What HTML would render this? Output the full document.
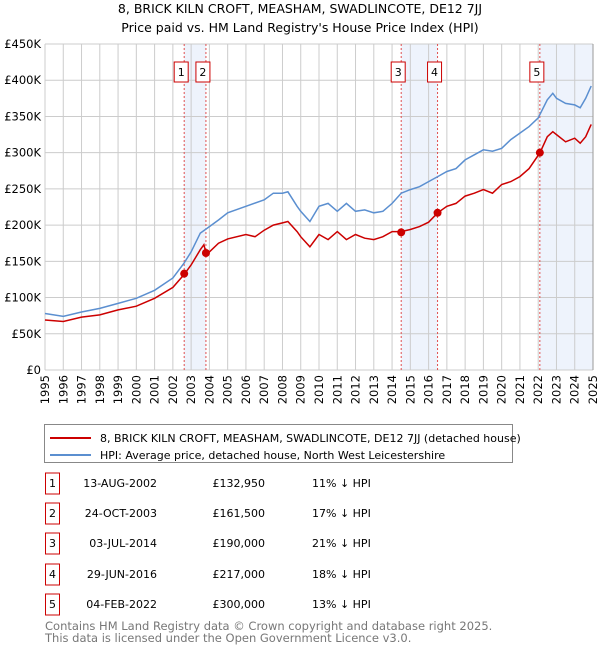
<!DOCTYPE html>
<html><head><meta charset="utf-8"><style>
body{margin:0;background:#fff;font-family:"DejaVu Sans","Liberation Sans",sans-serif;}
svg text{font-family:"DejaVu Sans","Liberation Sans",sans-serif;}
</style></head><body>
<svg id="c" width="600" height="650" xmlns="http://www.w3.org/2000/svg">
<text x="300" y="13" text-anchor="middle" font-size="12.5">8, BRICK KILN CROFT, MEASHAM, SWADLINCOTE, DE12 7JJ</text>
<text x="300" y="32" text-anchor="middle" font-size="12.5">Price paid vs. HM Land Registry's House Price Index (HPI)</text>
<g id="plot"></g>
<g>
<rect x="44.5" y="424.5" width="468" height="38" fill="#fff" stroke="#888"/>
<line x1="50" y1="438" x2="91" y2="438" stroke="#cc0000" stroke-width="2"/>
<text x="100" y="442" font-size="11">8, BRICK KILN CROFT, MEASHAM, SWADLINCOTE, DE12 7JJ (detached house)</text>
<line x1="50" y1="455" x2="91" y2="455" stroke="#5b8fd0" stroke-width="2"/>
<text x="100" y="459" font-size="11">HPI: Average price, detached house, North West Leicestershire</text>
</g>
<g id="table" font-size="11"></g>
<text x="45" y="630" font-size="11.5" fill="#777">Contains HM Land Registry data © Crown copyright and database right 2025.</text>
<text x="45" y="642" font-size="11.5" fill="#777">This data is licensed under the Open Government Licence v3.0.</text>
</svg>
<script>
const hpiYears=[1995,1996,1997,1998,1999,2000,2001,2002,2002.6,2003,2003.5,2004,2004.5,2005,2006,2007,2007.5,2008,2008.3,2008.8,2009,2009.5,2010,2010.5,2011,2011.5,2012,2012.5,2013,2013.5,2014,2014.5,2015,2015.5,2016,2016.5,2017,2017.5,2018,2018.5,2019,2019.5,2020,2020.5,2021,2021.5,2022,2022.5,2022.8,2023,2023.5,2024,2024.3,2024.6,2024.9];
const hpiValues=[78,74,80,85,92,99,110,127,147,163,189,198,207,217,226,235,244,244,246,226,219,205,226,230,219,230,219,221,217,219,230,244,249,253,260,267,274,278,290,297,304,302,306,318,327,336,348,373,382,375,368,366,362,375,392];
const propYears=[1995,1996,1997,1998,1999,2000,2001,2002,2002.62,2003,2003.5,2003.7,2003.81,2004,2004.5,2005,2006,2006.5,2007,2007.5,2008,2008.3,2008.8,2009,2009.5,2010,2010.5,2011,2011.5,2012,2012.5,2013,2013.5,2014,2014.5,2015,2015.5,2016,2016.5,2017,2017.5,2018,2018.5,2019,2019.5,2020,2020.5,2021,2021.5,2022.1,2022.5,2022.8,2023,2023.5,2024,2024.3,2024.6,2024.9];
const propValues=[69,67,73,76,83,88,99,114,132,145,166,173,162,163,175,181,187,184,193,200,203,205,191,184,170,187,180,191,180,187,182,180,184,191,191,194,198,204,217,226,230,240,244,249,244,256,260,267,278,300,322,329,325,315,320,313,322,339];
const saleYears=[2002.62,2003.81,2014.5,2016.49,2022.09];
const salePrices=[132.95,161.5,190,217,300];
const saleLabels=["1","2","3","4","5"];
const saleDates=["13-AUG-2002","24-OCT-2003","03-JUL-2014","29-JUN-2016","04-FEB-2022"];
const salePriceText=["£132,950","£161,500","£190,000","£217,000","£300,000"];
const saleHpiText=["11% ↓ HPI","17% ↓ HPI","21% ↓ HPI","18% ↓ HPI","13% ↓ HPI"];
const yTicks=[0,50,100,150,200,250,300,350,400,450];
const yTickLabels=["£0","£50K","£100K","£150K","£200K","£250K","£300K","£350K","£400K","£450K"];
const xTicks=[1995,1996,1997,1998,1999,2000,2001,2002,2003,2004,2005,2006,2007,2008,2009,2010,2011,2012,2013,2014,2015,2016,2017,2018,2019,2020,2021,2022,2023,2024,2025];

const NS="http://www.w3.org/2000/svg";
const L=45,R=593,T=44,B=370;
const xs=y=>L+(y-1995)/30*(R-L);
const ys=v=>B-v/450*(B-T);
function mk(tag,attrs,parent){const e=document.createElementNS(NS,tag);for(const k in attrs)e.setAttribute(k,attrs[k]);parent.appendChild(e);return e;}
const g=document.getElementById('plot');
// shading
const shadePairs=[[0,1],[2,3],[4,-1]];
shadePairs.forEach(p=>{const x1=xs(saleYears[p[0]]);const x2=p[1]<0?R:xs(saleYears[p[1]]);
const r=mk('rect',{x:x1,y:T,width:x2-x1,height:B-T,fill:'#eef3fc'},g);

});
// grid
yTicks.forEach((v,i)=>{const l=mk('line',{x1:L,x2:R,y1:ys(v),y2:ys(v),stroke:'#ccc'},g);


const t=mk('text',{x:L-4,y:ys(v)+4,'text-anchor':'end','font-size':'11.5'},g);t.textContent=yTickLabels[i];

});
xTicks.forEach(y=>{const l=mk('line',{x1:xs(y),x2:xs(y),y1:T,y2:B,stroke:'#ccc'},g);


const t=mk('text',{x:0,y:0,'text-anchor':'end','font-size':'11.5',transform:`translate(${xs(y)+4},${B+5}) rotate(-90)`},g);t.textContent=y;

});
// sale lines
saleYears.forEach((y,i)=>{const l=mk('line',{x1:xs(y),x2:xs(y),y1:T,y2:B,stroke:'#e05050','stroke-dasharray':'2,2'},g);

});
// series
const path=(xa,va)=>xa.map((x,i)=>(i?'L':'M')+xs(x).toFixed(1)+','+ys(va[i]).toFixed(1)).join('');
const hp=mk('path',{d:path(hpiYears,hpiValues),fill:'none',stroke:'#5b8fd0','stroke-width':1.5},g);


const pp=mk('path',{d:path(propYears,propValues),fill:'none',stroke:'#cc0000','stroke-width':1.5},g);


saleYears.forEach((y,i)=>{const c=mk('circle',{cx:xs(y),cy:ys(salePrices[i]),r:4,fill:'#cc0000'},g);


const bx=xs(y)-3;
const r=mk('rect',{x:bx-7,y:62,width:14,height:20,fill:'#fff',stroke:'#cc0000'},g);


const t=mk('text',{x:bx,y:76,'text-anchor':'middle','font-size':'11'},g);t.textContent=saleLabels[i];

});
mk('line',{x1:R,x2:R,y1:T,y2:B,stroke:'#999'},g);
// table
const tb=document.getElementById('table');
const rowY=[483,513,543,574,604];
saleLabels.forEach((s,i)=>{const y=rowY[i];
const r=mk('rect',{x:45.5,y:y-10,width:14,height:21,fill:'#fff',stroke:'#cc0000'},tb);


const t0=mk('text',{x:52.5,y:y+4,'text-anchor':'middle'},tb);t0.textContent=s;


const t1=mk('text',{x:157,y:y+4,'text-anchor':'end'},tb);t1.textContent=saleDates[i];


const t2=mk('text',{x:265,y:y+4,'text-anchor':'end'},tb);t2.textContent=salePriceText[i];


const t3=mk('text',{x:312,y:y+4},tb);t3.textContent=saleHpiText[i];

});
</script>
</body></html>
